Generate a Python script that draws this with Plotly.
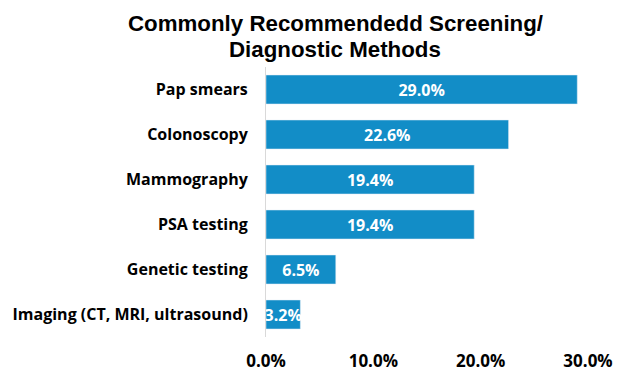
import plotly.graph_objects as go

categories = ["Pap smears", "Colonoscopy", "Mammography", "PSA testing",
              "Genetic testing", "Imaging (CT, MRI, ultrasound)"]
values = [29.0, 22.6, 19.4, 19.4, 6.5, 3.2]
tick_vals = [0, 10, 20, 30]
tick_text = ["0.0%", "10.0%", "20.0%", "30.0%"]
title_lines = ["Commonly Recommendedd Screening/", "Diagnostic Methods"]

labels = [f"{v:.1f}%" for v in values]
FONT = "Open Sans"

# figure is 616x368; page body adds an 8px offset
W, H = 616, 368
L, R, T, B = 258, 36, 59, 39
plot_h = H - T - B

def paper_y(px):
    return (H - B - px) / plot_h

fig = go.Figure(go.Bar(
    x=values, y=categories, orientation="h",
    marker=dict(color="#128DC7"),
    text=labels, textposition="inside", insidetextanchor="middle",
    constraintext="none",
    textfont=dict(color="white", size=16, family=FONT, weight="bold"),
    cliponaxis=False,
))

fig.update_layout(
    width=W, height=H,
    margin=dict(l=L, r=R, t=T, b=B, autoexpand=False),
    paper_bgcolor="white", plot_bgcolor="white",
    bargap=0.356,
    showlegend=False,
    font=dict(family=FONT, color="black"),
    annotations=[dict(
        text=f"<b>{line}</b>",
        xref="paper", yref="paper", x=(327 - L) / (W - L - R), y=paper_y(py),
        xanchor="center", yanchor="middle", showarrow=False,
        font=dict(family="Liberation Sans", size=22.3, color="black"),
    ) for line, py in zip(title_lines, [15, 41])],
)
fig.update_xaxes(range=[0, 30], tickvals=tick_vals, ticktext=tick_text,
                 showgrid=False, zeroline=False, showline=False, automargin=False,
                 ticks="", ticklabelstandoff=12,
                 tickfont=dict(size=17, family=FONT, weight="bold"))
fig.update_yaxes(autorange="reversed", showgrid=False, zeroline=False,
                 showline=True, linecolor="#D9D9D9", linewidth=1, automargin=False,
                 ticks="", ticklabelstandoff=14,
                 tickfont=dict(size=16, family=FONT, weight="bold"))

fig.write_html("out.html")
